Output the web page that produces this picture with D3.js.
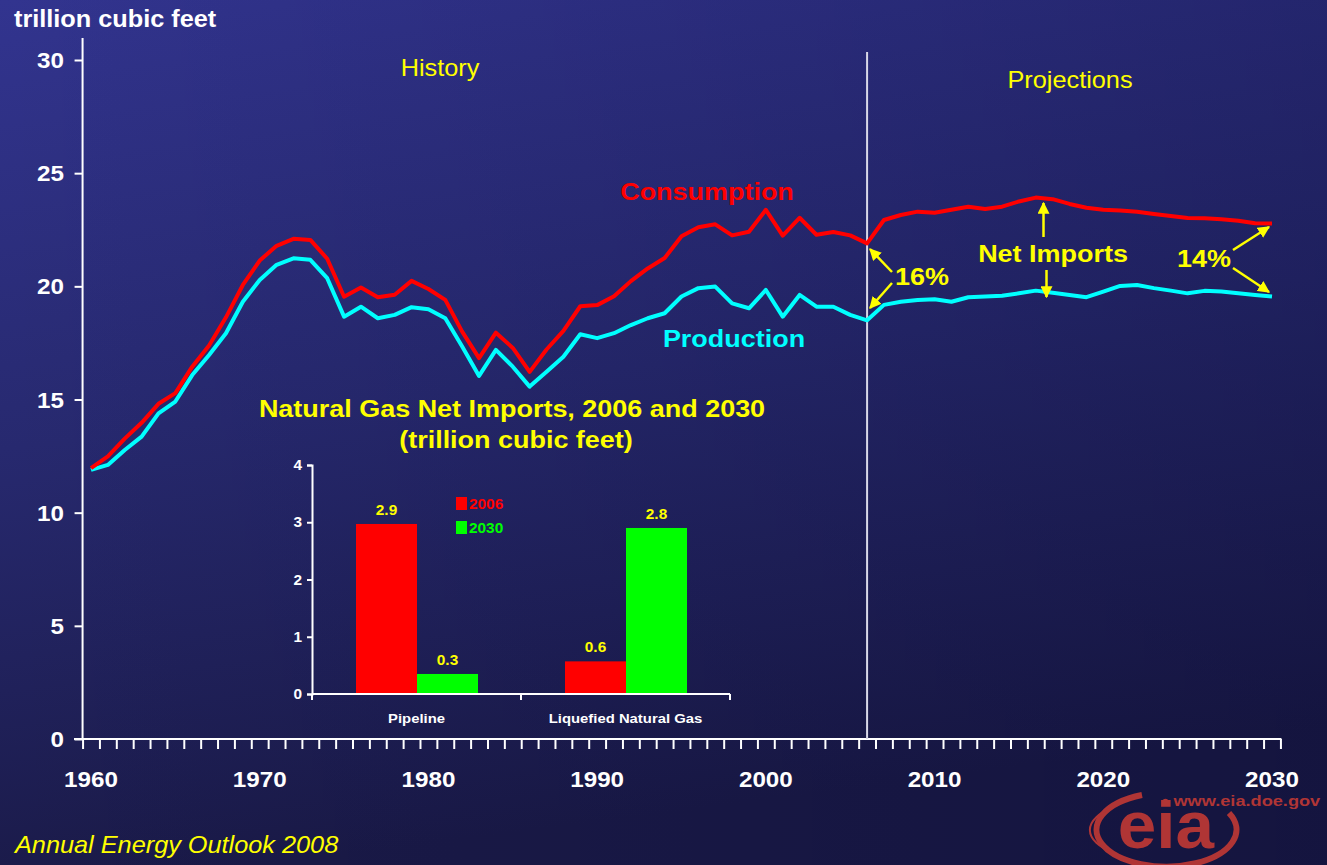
<!DOCTYPE html>
<html><head><meta charset="utf-8">
<script src="https://cdn.jsdelivr.net/npm/d3@7"></script>
<style>html,body{margin:0;padding:0;background:#1b1b4b;overflow:hidden}svg{display:block}</style>
</head><body>
<svg id="c" width="1327" height="865"></svg>
<script>
// ---------- data ----------
const startYear = 1960;
const endYear = 2030;
const historyEnd = 2006;
const consumption = [
  11.97,12.49,13.27,13.97,14.81,15.28,16.45,17.39,18.63,20.06,
  21.14,21.79,22.10,22.05,21.22,19.54,19.95,19.52,19.63,20.24,
  19.88,19.40,18.00,16.83,17.95,17.28,16.22,17.21,18.03,19.12,
  19.17,19.56,20.23,20.79,21.25,22.21,22.61,22.74,22.25,22.41,
  23.38,22.24,23.03,22.28,22.40,22.25,21.90,
  22.93,23.15,23.30,23.25,23.38,23.52,23.42,23.52,23.75,23.92,
  23.85,23.64,23.47,23.38,23.35,23.30,23.20,23.11,23.02,23.01,
  22.96,22.90,22.79,22.78
];
const production = [
  11.89,12.11,12.77,13.36,14.39,14.91,16.08,16.97,17.93,19.32,
  20.28,20.95,21.24,21.17,20.36,18.66,19.10,18.59,18.74,19.08,
  18.99,18.59,17.34,16.04,17.19,16.45,15.57,16.23,16.89,17.88,
  17.71,17.93,18.29,18.59,18.81,19.55,19.92,19.99,19.25,19.03,
  19.84,18.66,19.62,19.10,19.10,18.74,18.50,
  19.18,19.32,19.40,19.43,19.32,19.52,19.55,19.58,19.69,19.81,
  19.72,19.62,19.52,19.77,20.02,20.06,19.92,19.81,19.69,19.80,
  19.77,19.69,19.62,19.55
];
const yTickValues = [0,5,10,15,20,25,30];
const xLabelYears = [1960,1970,1980,1990,2000,2010,2020,2030];
const insetCategories = ["Pipeline","Liquefied Natural Gas"];
const insetSeries = ["2006","2030"];
const insetValues = [[2.97,0.35],[0.57,2.90]];
const insetValueLabels = [["2.9","0.3"],["0.6","2.8"]];
const insetTickValues = [0,1,2,3,4];

// ---------- setup ----------
const SX = 1.1;
const FONT = "'Liberation Sans', Arial, sans-serif";
const RED = "#ff0000", CYAN = "#00ffff", YELLOW = "#ffff00", WHITE = "#ffffff";
const svg = d3.select("#c");
const defs = svg.append("defs");
const bg = defs.append("linearGradient").attr("id","bg").attr("x1",0).attr("y1",0).attr("x2",0.2).attr("y2",1);
bg.append("stop").attr("offset","0").attr("stop-color","#32348f");
bg.append("stop").attr("offset","0.5").attr("stop-color","#27296f");
bg.append("stop").attr("offset","1").attr("stop-color","#1a1a48");
const bg2 = defs.append("linearGradient").attr("id","bg2").attr("x1",0).attr("y1",0).attr("x2",1).attr("y2",0);
bg2.append("stop").attr("offset","0").attr("stop-color","#000020").attr("stop-opacity",0);
bg2.append("stop").attr("offset","1").attr("stop-color","#000020").attr("stop-opacity",0.22);
defs.append("marker").attr("id","arr").attr("viewBox","0 0 10 10").attr("refX",9).attr("refY",5)
  .attr("markerWidth",12).attr("markerHeight",12).attr("markerUnits","userSpaceOnUse").attr("orient","auto")
  .append("path").attr("d","M0,0 L10,5 L0,10 z").attr("fill",YELLOW);

svg.append("rect").attr("width",1327).attr("height",865).attr("fill","url(#bg)");
svg.append("rect").attr("width",1327).attr("height",865).attr("fill","url(#bg2)");

function label(x, y, s, o) {
  o = o || {};
  return svg.append("text")
    .attr("transform", `translate(${x},${y}) scale(${o.sx || SX},1)`)
    .attr("text-anchor", o.anchor || "start")
    .style("font-family", FONT)
    .style("font-size", (o.size || 22) + "px")
    .style("font-weight", o.weight || "bold")
    .style("font-style", o.italic ? "italic" : "normal")
    .attr("fill", o.fill || WHITE)
    .text(s);
}

// ---------- main scales ----------
const x = d3.scaleLinear().domain([startYear, endYear]).range([91, 1272]);
const y = d3.scaleLinear().domain([0, 30]).range([739, 60]);
const years = d3.range(startYear, endYear + 1);

// axes lines
svg.append("line").attr("x1", x(startYear - 0.5)).attr("x2", x(startYear - 0.5)).attr("y1", 38).attr("y2", y(0))
  .attr("stroke", WHITE).attr("stroke-width", 2);
svg.append("line").attr("x1", 74).attr("x2", x(endYear + 0.5) + 1).attr("y1", y(0)).attr("y2", y(0))
  .attr("stroke", WHITE).attr("stroke-width", 2);

// y axis ticks
const yAxis = d3.axisLeft(y).tickValues(yTickValues).tickSize(8).tickFormat("");
const gy = svg.append("g").attr("transform", `translate(${x(startYear - 0.5)},0)`).call(yAxis);
gy.select(".domain").remove();
gy.selectAll("line").attr("stroke", WHITE).attr("stroke-width", 2);
yTickValues.forEach(v => label(64, y(v) + 8, String(v), {anchor: "end", size: 22}));

// x axis minor ticks (between years)
const xAxis = d3.axisBottom(x).tickValues(d3.range(startYear - 0.5, endYear + 1, 1)).tickSize(10).tickFormat("");
const gx = svg.append("g").attr("transform", `translate(0,${y(0)})`).call(xAxis);
gx.select(".domain").remove();
gx.selectAll("line").attr("stroke", WHITE).attr("stroke-width", 2);
xLabelYears.forEach(v => label(x(v), 787, String(v), {anchor: "middle", size: 22}));

label(14, 27, "trillion cubic feet", {size: 23});

// divider
svg.append("line").attr("x1", x(historyEnd)).attr("x2", x(historyEnd)).attr("y1", 52).attr("y2", y(0))
  .attr("stroke", "#d8d8e8").attr("stroke-width", 2);

label(440, 76, "History", {anchor: "middle", size: 23, weight: "normal", fill: YELLOW});
label(1070, 88, "Projections", {anchor: "middle", size: 23, weight: "normal", fill: YELLOW});

// lines
const line = d3.line().x((d, i) => x(years[i])).y(d => y(d));
svg.append("path").datum(production).attr("d", line).attr("fill", "none")
  .attr("stroke", CYAN).attr("stroke-width", 4).attr("stroke-linejoin", "round");
svg.append("path").datum(consumption).attr("d", line).attr("fill", "none")
  .attr("stroke", RED).attr("stroke-width", 4).attr("stroke-linejoin", "round");

label(707, 200, "Consumption", {anchor: "middle", size: 24.5, fill: RED});
label(734, 347, "Production", {anchor: "middle", size: 24.5, fill: CYAN});
label(1053, 262, "Net Imports", {anchor: "middle", size: 24.5, fill: YELLOW});
label(895, 285, "16%", {size: 24.5, fill: YELLOW});
label(1177, 267, "14%", {size: 24.5, fill: YELLOW});

function arrow(x1, y1, x2, y2) {
  svg.append("line").attr("x1", x1).attr("y1", y1).attr("x2", x2).attr("y2", y2)
    .attr("stroke", YELLOW).attr("stroke-width", 2.5).attr("marker-end", "url(#arr)");
}
arrow(892, 272, 870, 249);
arrow(892, 283, 870, 308);
arrow(1043.5, 237, 1043.5, 203);
arrow(1046.5, 270, 1046.5, 297);
arrow(1233, 250, 1269, 227);
arrow(1233, 268, 1269, 292);

// ---------- inset ----------
label(512, 417, "Natural Gas Net Imports, 2006 and 2030", {anchor: "middle", size: 24.5, fill: YELLOW});
label(516, 448, "(trillion cubic feet)", {anchor: "middle", size: 24.5, fill: YELLOW});

const ix = d3.scaleBand().domain(insetCategories).range([312, 730]).padding(0);
const isub = d3.scaleBand().domain(insetSeries).range([44, 166]).padding(0);
const iy = d3.scaleLinear().domain([0, 4]).range([694, 465]);
const seriesColor = {"2006": RED, "2030": "#00ff00"};

insetCategories.forEach((c, ci) => {
  insetSeries.forEach((s, si) => {
    const v = insetValues[ci][si];
    svg.append("rect").attr("x", ix(c) + isub(s)).attr("width", isub.bandwidth())
      .attr("y", iy(v)).attr("height", iy(0) - iy(v)).attr("fill", seriesColor[s]);
    label(ix(c) + isub(s) + isub.bandwidth() / 2, iy(v) - 9, insetValueLabels[ci][si],
      {anchor: "middle", size: 14, fill: YELLOW});
  });
  label(ix(c) + ix.bandwidth() / 2, 723, c, {anchor: "middle", size: 13.5});
});

const iyAxis = d3.axisLeft(iy).tickValues(insetTickValues).tickSize(5).tickFormat("");
const giy = svg.append("g").attr("transform", "translate(312,0)").call(iyAxis);
giy.selectAll("path,line").attr("stroke", WHITE).attr("stroke-width", 2);
insetTickValues.forEach(v => label(302, iy(v) + 5, String(v), {anchor: "end", size: 14}));
svg.append("line").attr("x1", 312).attr("x2", 730).attr("y1", iy(0)).attr("y2", iy(0)).attr("stroke", WHITE).attr("stroke-width", 2);
[312, 521, 730].forEach(px => svg.append("line").attr("x1", px).attr("x2", px).attr("y1", iy(0)).attr("y2", iy(0) + 6)
  .attr("stroke", WHITE).attr("stroke-width", 2));

// inset legend
insetSeries.forEach((s, i) => {
  svg.append("rect").attr("x", 456).attr("y", 497 + i * 24).attr("width", 11).attr("height", 13).attr("fill", seriesColor[s]);
  label(469, 509 + i * 23.5, s, {size: 14, fill: seriesColor[s]});
});

// ---------- footer ----------
label(15, 853, "Annual Energy Outlook 2008", {size: 23, weight: "normal", italic: true, fill: YELLOW});

// eia logo
const LOGO = "#b03535";
svg.append("path").attr("d", "M1142,795 A70,37 0 1,0 1229,813").attr("fill", "none").attr("stroke", LOGO).attr("stroke-width", 6);
svg.append("path").attr("d", "M1112,808 A58,28 0 0,0 1112,852").attr("fill", "none").attr("stroke", LOGO).attr("stroke-width", 2);
label(1166, 848, "eia", {anchor: "middle", size: 66, fill: LOGO, sx: 1.05});
label(1162, 806, "• www.eia.doe.gov", {size: 14, fill: LOGO, sx: 1.3});
</script>
</body></html>
